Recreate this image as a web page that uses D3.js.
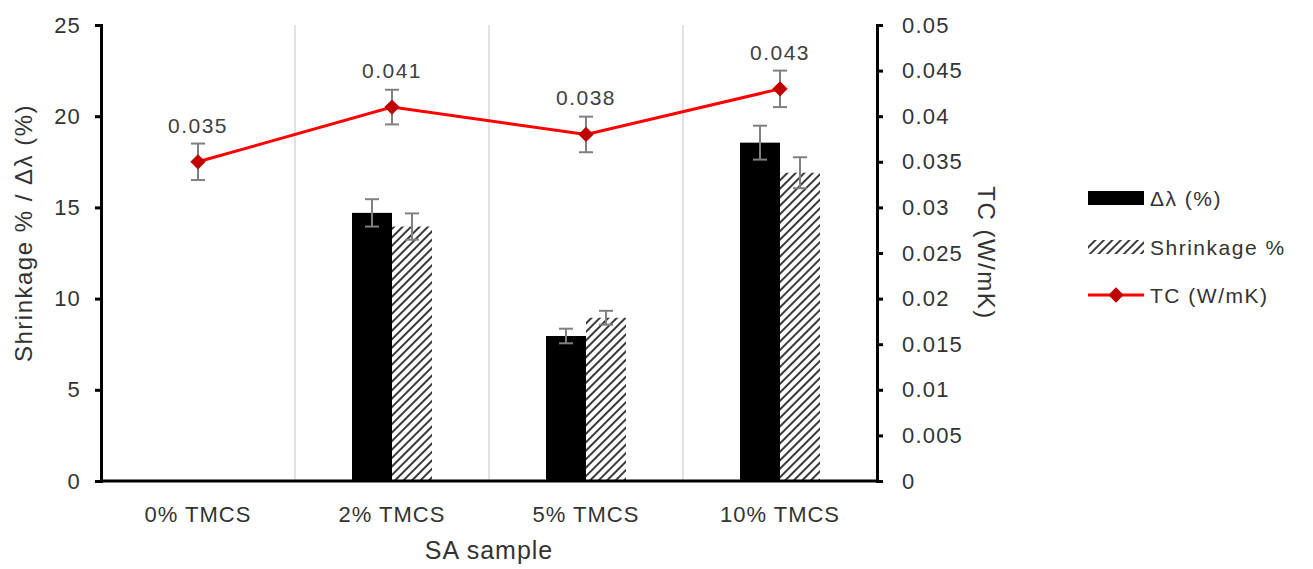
<!DOCTYPE html>
<html>
<head>
<meta charset="utf-8">
<script src="https://cdn.jsdelivr.net/npm/d3@7"></script>
<style>
  body { margin: 0; background: #fff; }
  text { font-family: "Liberation Sans", Arial, sans-serif; fill: #333; }
</style>
</head>
<body>
<div class="canvas"></div>
<script>
const
    categories = ["0% TMCS", "2% TMCS", "5% TMCS", "10% TMCS"],
    deltaLambda = [0, 14.7, 7.95, 18.55],
    deltaLambdaErr = [0, 0.75, 0.4, 0.93],
    shrinkage = [0, 13.95, 8.95, 16.9],
    shrinkageErr = [0, 0.72, 0.38, 0.85],
    tc = [0.035, 0.041, 0.038, 0.043],
    tcErr = [0.002, 0.0019, 0.00195, 0.002],
    leftTicks = [0, 5, 10, 15, 20, 25],
    rightTicks = [0, 0.005, 0.01, 0.015, 0.02, 0.025, 0.03, 0.035, 0.04, 0.045, 0.05];

const
    width = 1313,
    height = 569,
    plotLeft = 101,
    plotRight = 877,
    plotTop = 25,
    plotBottom = 481,
    barW = 40;

const svg = d3.select('.canvas').append("svg")
    .attr('width', width)
    .attr('height', height);

// hatch pattern for shrinkage bars
const defs = svg.append("defs");
defs.append("pattern")
    .attr("id", "hatch")
    .attr("patternUnits", "userSpaceOnUse")
    .attr("width", 6)
    .attr("height", 6)
    .attr("patternTransform", "rotate(45)")
    .append("rect")
    .attr("x", 0).attr("y", 0)
    .attr("width", 2).attr("height", 6)
    .attr("fill", "#3a3a3a");

const x = d3.scaleBand()
    .domain(categories)
    .range([plotLeft, plotRight]);
const yL = d3.scaleLinear()
    .domain([0, 25])
    .range([plotBottom, plotTop]);
const yR = d3.scaleLinear()
    .domain([0, 0.05])
    .range([plotBottom, plotTop]);

// vertical gridlines at category boundaries
svg.selectAll(".grid")
    .data(categories.slice(1))
    .enter()
    .append("line")
    .attr("x1", d => x(d)).attr("x2", d => x(d))
    .attr("y1", plotTop).attr("y2", plotBottom)
    .attr("stroke", "#d9d9d9")
    .attr("stroke-width", 1.5);

// bars
const groups = categories.map((c, i) => ({
    c,
    items: [
        { key: "dl", v: deltaLambda[i], e: deltaLambdaErr[i] },
        { key: "sh", v: shrinkage[i], e: shrinkageErr[i] }
    ]
}));

const barX = (c, k) => x(c) + x.bandwidth() / 2 + (k === "dl" ? -barW : 0);

const g = svg.selectAll(".grp")
    .data(groups)
    .enter()
    .append("g");

g.selectAll("rect")
    .data(d => d.items.map(it => ({ ...it, c: d.c })))
    .enter()
    .append("rect")
    .attr("x", d => barX(d.c, d.key))
    .attr("y", d => yL(d.v))
    .attr("width", barW)
    .attr("height", d => plotBottom - yL(d.v))
    .attr("fill", d => d.key === "dl" ? "#000" : "url(#hatch)");

// TC line
const cxOf = c => x(c) + x.bandwidth() / 2;
const line = d3.line()
    .x((d, i) => cxOf(categories[i]))
    .y(d => yR(d));

svg.append("path")
    .datum(tc)
    .attr("d", line)
    .attr("fill", "none")
    .attr("stroke", "#ff0000")
    .attr("stroke-width", 3);

// error bars
const errG = svg.append("g").attr("stroke", "#808080").attr("stroke-width", 2);
const errBar = (cx, y0, y1) => {
    errG.append("line").attr("x1", cx).attr("x2", cx).attr("y1", y0).attr("y2", y1);
    [y0, y1].forEach(yy => {
        errG.append("line").attr("x1", cx - 7).attr("x2", cx + 7).attr("y1", yy).attr("y2", yy);
    });
};
groups.forEach(gr => {
    gr.items.forEach(it => {
        if (it.v <= 0) return;
        errBar(barX(gr.c, it.key) + barW / 2, yL(it.v + it.e), yL(it.v - it.e));
    });
});
tc.forEach((v, i) => {
    errBar(cxOf(categories[i]), yR(v + tcErr[i]), yR(v - tcErr[i]));
});

svg.selectAll(".marker")
    .data(tc)
    .enter()
    .append("path")
    .attr("d", d3.symbol(d3.symbolDiamond2, 150)())
    .attr("transform", (d, i) => `translate(${cxOf(categories[i])},${yR(d)})`)
    .attr("fill", "#c00000");

svg.selectAll(".lbl")
    .data(tc)
    .enter()
    .append("text")
    .attr("x", (d, i) => cxOf(categories[i]))
    .attr("y", d => yR(d) - 29)
    .attr("text-anchor", "middle")
    .attr("font-size", 21)
    .attr("letter-spacing", 1.5)
    .style("fill", "#404040")
    .text(d => d3.format(".3f")(d));

// axes
const axL = svg.append("g")
    .attr("transform", `translate(${plotLeft},0)`)
    .call(d3.axisLeft(yL).tickValues(leftTicks).tickSize(6).tickPadding(14));
const axR = svg.append("g")
    .attr("transform", `translate(${plotRight},0)`)
    .call(d3.axisRight(yR).tickValues(rightTicks).tickSize(6).tickPadding(19)
        .tickFormat(d => d === 0 ? "0" : String(+d.toFixed(3))));
const axB = svg.append("g")
    .attr("transform", `translate(0,${plotBottom})`)
    .call(d3.axisBottom(x).tickSize(0).tickPadding(25));

[axL, axR, axB].forEach(a => {
    a.select(".domain").attr("stroke", "#000").attr("stroke-width", 3);
    a.selectAll(".tick line").attr("stroke", "#000").attr("stroke-width", 3);
    a.selectAll(".tick text")
        .attr("font-size", 22)
        .attr("letter-spacing", 1.2)
        .attr("font-family", "Liberation Sans, Arial, sans-serif")
        .style("fill", "#333");
});
axR.selectAll(".tick line").attr("x2", 6);
axB.select(".domain").attr("d", `M${plotLeft - 1},0H${plotRight + 1}`);
axB.selectAll(".tick text").attr("letter-spacing", 1).attr("font-size", 22);

// axis titles
svg.append("text")
    .attr("transform", `translate(32,${(plotTop + plotBottom) / 2 - 20}) rotate(-90)`)
    .attr("text-anchor", "middle")
    .attr("font-size", 24)
    .attr("letter-spacing", 1.5)
    .text("Shrinkage % / Δλ (%)");

svg.append("text")
    .attr("transform", `translate(978,${(plotTop + plotBottom) / 2}) rotate(90)`)
    .attr("text-anchor", "middle")
    .attr("font-size", 24)
    .attr("letter-spacing", 1.5)
    .text("TC (W/mK)");

svg.append("text")
    .attr("x", (plotLeft + plotRight) / 2)
    .attr("y", 559)
    .attr("text-anchor", "middle")
    .attr("font-size", 25)
    .attr("letter-spacing", 1)
    .text("SA sample");

// legend
const leg = svg.append("g").attr("transform", "translate(1088,0)");
leg.append("rect").attr("x", 0).attr("y", 191).attr("width", 56).attr("height", 14).attr("fill", "#000");
leg.append("rect").attr("x", 0).attr("y", 240).attr("width", 56).attr("height", 14).attr("fill", "url(#hatch)");
leg.append("line").attr("x1", 0).attr("x2", 56).attr("y1", 295).attr("y2", 295)
    .attr("stroke", "#ff0000").attr("stroke-width", 3);
leg.append("path").attr("d", d3.symbol(d3.symbolDiamond2, 150)())
    .attr("transform", "translate(28,295)").attr("fill", "#c00000");
[["Δλ (%)", 206], ["Shrinkage %", 255], ["TC (W/mK)", 303]].forEach(([t, yy]) => {
    leg.append("text").attr("x", 62).attr("y", yy)
        .attr("font-size", 21).attr("letter-spacing", 1.5).text(t);
});
</script>
</body>
</html>
